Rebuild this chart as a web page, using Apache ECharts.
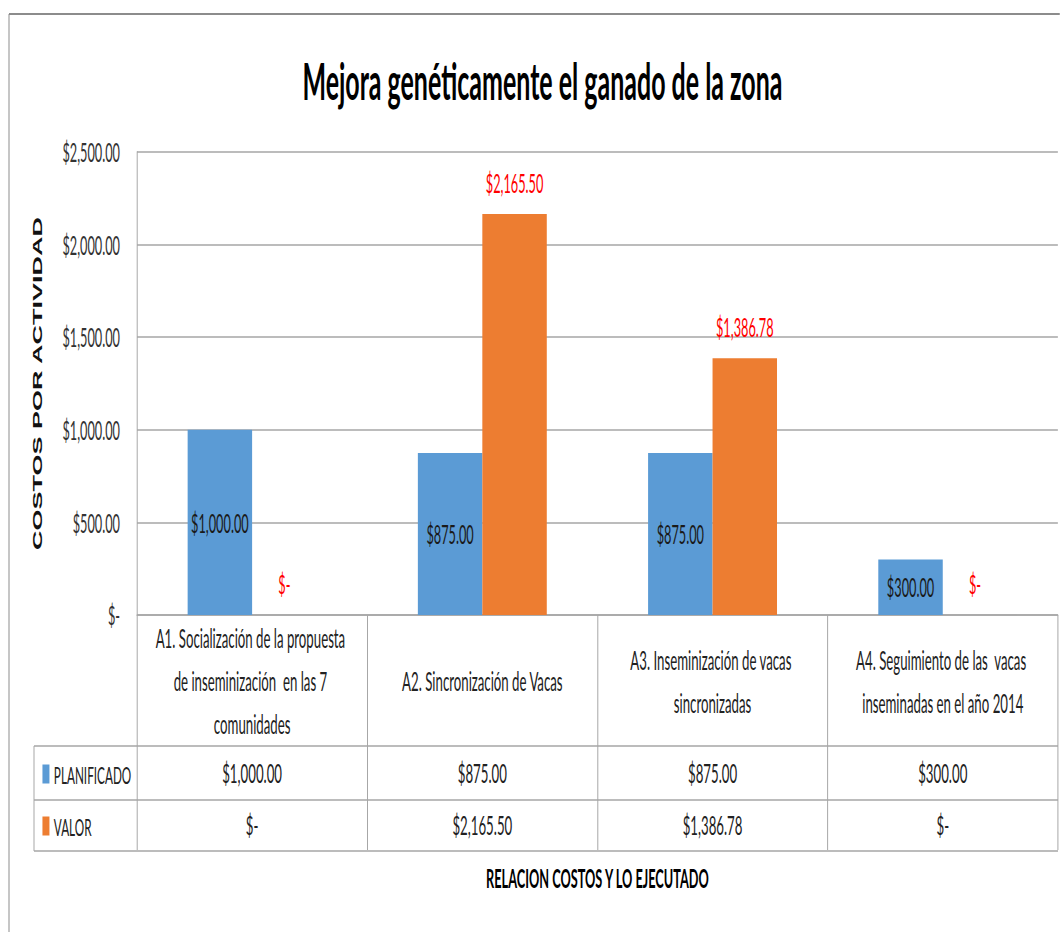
<!DOCTYPE html>
<html>
<head>
<meta charset="utf-8">
<script src="https://cdn.jsdelivr.net/npm/echarts@6/dist/echarts.min.js"></script>
<style>
  html, body { margin: 0; padding: 0; overflow: hidden; background: #fff; }
  #chart { height: 932px; transform-origin: 0 0; }
</style>
</head>
<body>
<div id="chart"></div>
<script>
// the source chart is squeezed sideways (tall narrow text), so draw wide and squeeze
const SX = 0.49;
const W = Math.round(1060 / SX);
const px = x => x / SX;

const categories = [
    'A1. Socialización de la propuesta de inseminización  en las 7 comunidades',
    'A2. Sincronización de Vacas',
    'A3. Inseminización de vacas sincronizadas',
    'A4. Seguimiento de las  vacas inseminadas en el año 2014'
];
const seriesNames = ['PLANIFICADO', 'VALOR'];
const planificado = [1000, 875, 875, 300];
const valor = [0, 2165.5, 1386.78, 0];

function money(v) {
    if (v === 0) return '$-';
    return '$' + v.toLocaleString('en-US', { minimumFractionDigits: 2, maximumFractionDigits: 2 });
}

const font = 'Lato';
const lineColor = '#a6a6a6';

let el = document.getElementById('chart');
el.style.width = W + 'px';
el.style.transform = 'scaleX(' + SX + ')';

let chart = echarts.init(el, null, { renderer: 'svg', width: W, height: 932 });

let rowAxis = (data, margin) => ({
    type: 'category',
    data: categories,
    position: 'bottom',
    axisLine: { show: false },
    axisTick: { show: false },
    axisLabel: {
        interval: 0,
        margin: margin,
        verticalAlign: 'middle',
        fontFamily: font,
        fontSize: 27,
        color: '#222',
        formatter: (v, i) => money(data[i])
    }
});

let option = {
    animation: false,
    title: {
        text: 'Mejora genéticamente el ganado de la zona',
        left: px(540),
        textAlign: 'center',
        top: 50,
        textStyle: { fontFamily: font, fontWeight: 'bold', fontSize: 51, color: '#000' }
    },
    legend: {
        data: seriesNames,
        orient: 'vertical',
        left: px(40),
        top: 757,
        itemWidth: px(7),
        itemHeight: 19,
        itemGap: 28,
        icon: 'rect',
        selectedMode: false,
        textStyle: { fontFamily: font, fontSize: 24, color: '#222', lineHeight: 24, padding: [0, 0, 0, 4] }
    },
    grid: { left: px(137), right: px(2), top: 152, bottom: 317 },
    xAxis: [
        {
            type: 'category',
            data: categories,
            name: 'RELACION COSTOS Y LO EJECUTADO',
            nameLocation: 'middle',
            nameGap: 263,
            nameTextStyle: { fontFamily: font, fontWeight: 'bold', fontSize: 26, color: '#000', verticalAlign: 'middle' },
            axisLine: { lineStyle: { color: lineColor, width: 1.5 } },
            axisTick: { show: true, interval: 0, length: 235, lineStyle: { color: lineColor, width: 2 } },
            axisLabel: {
                interval: 0,
                margin: 66,
                verticalAlign: 'middle',
                width: px(200),
                overflow: 'break',
                lineHeight: 43,
                fontFamily: font,
                fontSize: 27,
                color: '#222'
            }
        },
        rowAxis(planificado, 158),
        rowAxis(valor, 210)
    ],
    yAxis: {
        type: 'value',
        min: 0,
        max: 2500,
        interval: 500,
        name: 'COSTOS POR ACTIVIDAD',
        nameLocation: 'middle',
        nameRotate: 90,
        nameGap: px(99),
        nameTextStyle: { fontFamily: 'Liberation Sans', fontWeight: 'bold', fontSize: 27, color: '#111', verticalAlign: 'middle' },
        axisLine: { show: true, lineStyle: { color: lineColor, width: 2 } },
        axisTick: { show: false },
        splitLine: { lineStyle: { color: lineColor, width: 1.5 } },
        axisLabel: {
            margin: px(17),
            fontFamily: font,
            fontSize: 26,
            color: '#333',
            formatter: v => money(v)
        }
    },
    series: [
        {
            name: seriesNames[0],
            type: 'bar',
            data: planificado,
            barGap: 0,
            barCategoryGap: '44%',
            itemStyle: { color: '#5b9bd5' },
            label: {
                show: true,
                position: 'inside',
                fontFamily: font,
                fontSize: 26,
                color: '#1a1a1a',
                formatter: p => money(p.value)
            }
        },
        {
            name: seriesNames[1],
            type: 'bar',
            data: valor,
            itemStyle: { color: '#ed7d31' },
            label: {
                show: true,
                position: 'top',
                distance: 17,
                lineHeight: 28,
                fontFamily: font,
                fontSize: 26,
                color: '#ff0000',
                formatter: p => money(p.value)
            }
        }
    ],
    graphic: [
        // chart area border (top and left)
        { type: 'line', silent: true, shape: { x1: px(9), y1: 14, x2: W, y2: 14 }, style: { stroke: '#8c8c8c', lineWidth: 2 } },
        { type: 'line', silent: true, shape: { x1: px(9), y1: 14, x2: px(9), y2: 932 }, style: { stroke: '#8c8c8c', lineWidth: 2 } },
        // data table rows
        { type: 'line', silent: true, shape: { x1: px(34), y1: 746, x2: px(1058), y2: 746 }, style: { stroke: lineColor, lineWidth: 1.5 } },
        { type: 'line', silent: true, shape: { x1: px(34), y1: 800, x2: px(1058), y2: 800 }, style: { stroke: lineColor, lineWidth: 1.5 } },
        { type: 'line', silent: true, shape: { x1: px(34), y1: 851, x2: px(1058), y2: 851 }, style: { stroke: lineColor, lineWidth: 1.5 } },
        { type: 'line', silent: true, shape: { x1: px(34), y1: 746, x2: px(34), y2: 851 }, style: { stroke: lineColor, lineWidth: 2 } }
    ]
};

chart.setOption(option);
</script>
</body>
</html>
